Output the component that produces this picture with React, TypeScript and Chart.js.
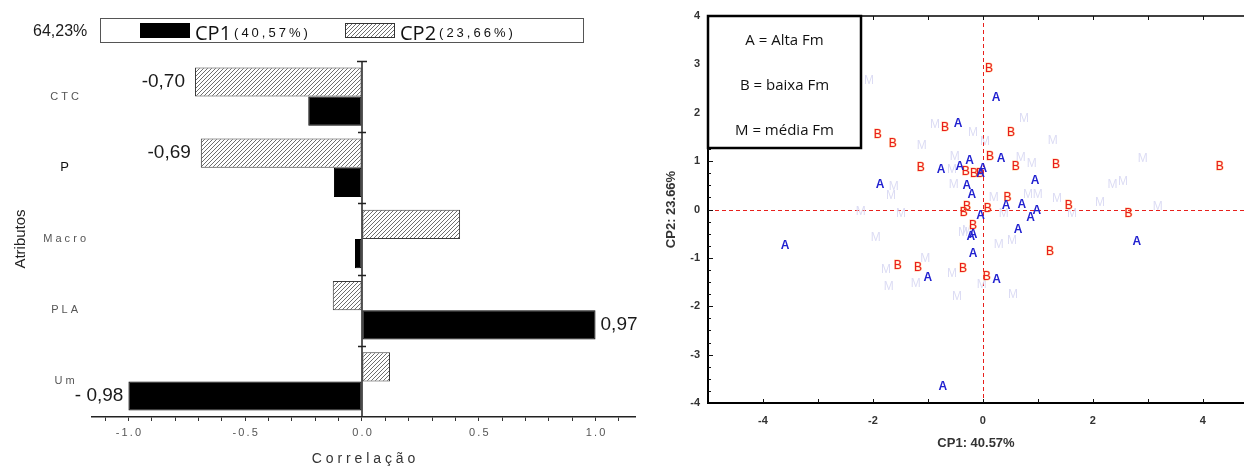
import React, { useEffect, useRef } from 'react';
import { Chart, registerables } from 'chart.js';

Chart.register(...registerables);

// ---------- Left panel data (correlations) ----------
const attributes = ['CTC', 'P', 'Macro', 'PLA', 'Um'];
const cp1Values = [-0.23, -0.12, -0.03, 1.0, -1.0];
const cp2Values = [-0.715, -0.69, 0.42, -0.125, 0.12];
const seriesNames = ['CP1', 'CP2'];
const seriesPct = ['(40,57%)', '(23,66%)'];
const totalPct = '64,23%';
const barLabelTexts = ['-0,70', '-0,69', '0,97', '- 0,98'];
const barLabelSeries = [1, 1, 0, 0]; // 0 = CP1, 1 = CP2
const barLabelIndex = [0, 1, 3, 4];
const corrAxisTitle = 'Correlação';
const attrAxisTitle = 'Atributos';

// ---------- Right panel data (PCA scores) ----------
const aX = [0.24, -0.45, -0.24, 0.33, -0.76, -0.42, 0.0, -0.04, -1.87, -0.29, -0.2, 0.95, -0.04, 0.42, 0.71, 0.98, 0.87, 0.64, -0.18, -0.22, -0.18, -3.6, 2.8, -1.0, 0.25, -0.73];
const aY = [2.31, 1.78, 1.01, 1.05, 0.83, 0.89, 0.85, 0.74, 0.52, 0.5, 0.31, 0.6, -0.12, 0.08, 0.1, -0.02, -0.17, -0.41, -0.52, -0.56, -0.91, -0.74, -0.66, -1.4, -1.45, -3.66];
const bX = [0.11, -1.91, -1.64, -0.69, 0.51, 0.13, -1.13, -0.31, -0.16, -0.05, 0.6, 1.33, 4.31, 0.45, -0.29, -0.35, 0.09, 1.56, 2.65, -0.18, 1.22, -1.55, -1.18, -0.36, 0.07];
const bY = [2.91, 1.55, 1.36, 1.69, 1.59, 1.1, 0.87, 0.79, 0.74, 0.74, 0.89, 0.93, 0.89, 0.25, 0.06, -0.06, 0.02, 0.08, -0.08, -0.33, -0.87, -1.16, -1.2, -1.22, -1.38];
const mX = [-2.07, 0.75, -0.87, -0.18, 0.04, -1.11, -0.51, 0.69, 0.89, -0.56, -1.62, -0.53, -1.67, 0.2, 0.82, 1.0, -2.22, -1.49, -1.95, -0.36, 0.38, 0.29, 0.53, -1.05, -1.76, -1.71, -1.22, -0.56, -0.02, 0.55, -0.47, 1.27, 2.91, 2.36, 2.55, 1.35, 2.13, 1.62, 3.18, -0.29];
const mY = [2.67, 1.88, 1.76, 1.59, 1.4, 1.32, 1.1, 1.07, 0.95, 0.83, 0.48, 0.52, 0.29, 0.25, 0.31, 0.31, -0.04, -0.08, -0.58, -0.48, -0.08, -0.72, -0.64, -1.01, -1.24, -1.59, -1.53, -1.32, -1.55, -1.76, -1.8, 1.43, 1.05, 0.52, 0.58, 0.23, 0.14, -0.08, 0.06, -0.43];
const groupLetters = ['M', 'B', 'A'];
const groupLegend = ['A = Alta Fm', 'B = baixa Fm', 'M = média Fm'];
const scoreXTitle = 'CP1: 40.57%';
const scoreYTitle = 'CP2: 23.66%';

Chart.defaults.font.family = "'Liberation Sans', Arial, sans-serif";

function toPoints(xs: number[], ys: number[]) {
  return xs.map((x, i) => ({ x, y: ys[i] }));
}

function makeHatch(): CanvasPattern | string {
  const c = document.createElement('canvas');
  c.width = 4;
  c.height = 4;
  const g = c.getContext('2d');
  if (!g) return '#cccccc';
  g.fillStyle = '#ffffff';
  g.fillRect(0, 0, 4, 4);
  g.strokeStyle = '#5e5e5e';
  g.lineWidth = 0.9;
  g.beginPath();
  g.moveTo(0, 4); g.lineTo(4, 0);
  g.moveTo(-1, 1); g.lineTo(1, -1);
  g.moveTo(3, 5); g.lineTo(5, 3);
  g.stroke();
  return g.createPattern(c, 'repeat') || '#cccccc';
}

const spaced = (s: string, sep = ' ') => s.split('').join(sep);
const isHalf = (v: number) => Math.abs(v * 2 - Math.round(v * 2)) < 1e-6;

export default function App() {
  const leftRef = useRef<HTMLCanvasElement>(null);
  const rightRef = useRef<HTMLCanvasElement>(null);

  useEffect(() => {
    document.body.style.margin = '0';
    const hatch = makeHatch();

    const barDecor = {
      id: 'barDecor',
      afterDatasetsDraw(chart: any) {
        const { ctx, chartArea, scales } = chart;
        const x = scales.x;
        const y = scales.y;
        const x0 = Math.round(x.getPixelForValue(0));
        const band = y.getPixelForValue(1) - y.getPixelForValue(0);
        ctx.save();
        // zero axis
        ctx.strokeStyle = '#222';
        ctx.lineWidth = 1.5;
        ctx.beginPath();
        ctx.moveTo(x0, chartArea.top);
        ctx.lineTo(x0, chartArea.bottom);
        for (let i = 0; i < attributes.length; i++) {
          const yy = Math.round(y.getPixelForValue(i) - band / 2) + 0.5;
          const w = i === 0 ? 5 : 4;
          ctx.moveTo(x0 - w, yy);
          ctx.lineTo(x0 + w, yy);
        }
        ctx.stroke();

        // value labels
        ctx.fillStyle = '#1a1a1a';
        ctx.font = "19px 'Liberation Sans', sans-serif";
        ctx.textBaseline = 'middle';
        barLabelTexts.forEach((t, k) => {
          const dsIndex = barLabelSeries[k] === 0 ? 1 : 0;
          const el = chart.getDatasetMeta(dsIndex).data[barLabelIndex[k]];
          const val = chart.data.datasets[dsIndex].data[barLabelIndex[k]];
          const gap = barLabelSeries[k] === 1 ? 10 : 5;
          if (val < 0) {
            ctx.textAlign = 'right';
            ctx.fillText(t, el.x - gap, el.y);
          } else {
            ctx.textAlign = 'left';
            ctx.fillText(t, el.x + gap, el.y);
          }
        });

        // total
        ctx.textAlign = 'left';
        ctx.font = "16px 'Liberation Sans', sans-serif";
        ctx.fillText(totalPct, 33, 32);

        // legend box
        ctx.strokeStyle = '#555';
        ctx.lineWidth = 1;
        ctx.strokeRect(100.5, 18.5, 483, 24);
        const starts = [140, 345];
        const fills = [chart.data.datasets[1].backgroundColor, chart.data.datasets[0].backgroundColor];
        for (let k = 0; k < 2; k++) {
          const sx = starts[k];
          ctx.fillStyle = fills[k];
          ctx.fillRect(sx, 23, 50, 15);
          ctx.strokeStyle = k === 0 ? '#000' : '#333';
          ctx.lineWidth = 1;
          ctx.strokeRect(sx + 0.5, 23.5, 49, 14);
          ctx.fillStyle = '#111';
          ctx.font = "20px 'Open Sans', sans-serif";
          ctx.textBaseline = 'alphabetic';
          ctx.fillText(seriesNames[k], sx + 55, 40);
          const w = ctx.measureText(seriesNames[k]).width;
          ctx.font = "13px 'Liberation Sans', sans-serif";
          (ctx as any).letterSpacing = '3px';
          ctx.fillText(seriesPct[k], sx + 58 + w, 37);
          (ctx as any).letterSpacing = '0px';
        }
        ctx.restore();
      },
    };

    const left = new Chart(leftRef.current as HTMLCanvasElement, {
      type: 'bar',
      data: {
        labels: attributes,
        datasets: [
          {
            label: seriesNames[1],
            data: cp2Values,
            backgroundColor: hatch as any,
            borderColor: '#3a3a3a',
            borderWidth: 1,
            borderSkipped: false,
            categoryPercentage: 0.82,
            barPercentage: 1.0,
          },
          {
            label: seriesNames[0],
            data: cp1Values,
            backgroundColor: '#000000',
            borderColor: '#000000',
            borderWidth: 1,
            borderSkipped: false,
            categoryPercentage: 0.82,
            barPercentage: 1.0,
          },
        ],
      },
      options: {
        indexAxis: 'y',
        animation: false,
        responsive: false,
        layout: { padding: { top: 61, right: 15, left: 0, bottom: 0 } },
        plugins: { legend: { display: false }, tooltip: { enabled: false } },
        scales: {
          x: {
            type: 'linear',
            min: -1.156,
            max: 1.169,
            grid: { display: true, drawOnChartArea: false, drawTicks: true, tickLength: 4, color: '#333' },
            border: { display: true, color: '#222', width: 1.5 },
            ticks: {
              stepSize: 0.1,
              includeBounds: false,
              autoSkip: false,
              maxRotation: 0,
              padding: 5,
              color: '#555',
              font: { size: 11 },
              callback: (v: any) => {
                const n = Number(v);
                if (!isHalf(n)) return '';
                const s = Math.abs(n) < 1e-9 ? '0.0' : n.toFixed(1);
                return spaced(s, '\u2009');
              },
            },
            title: {
              display: true,
              text: spaced(corrAxisTitle),
              color: '#333',
              font: { size: 14 },
              padding: { top: 0, bottom: -2 },
            },
            afterFit: (s: any) => { s.height = 49; },
          },
          y: {
            type: 'category',
            grid: { display: false, drawTicks: false },
            border: { display: false },
            ticks: {
              crossAlign: 'center',
              padding: 6,
              color: (c: any) => (c.index === 1 ? '#111' : '#555'),
              font: (c: any) => (c.index === 1 ? { size: 13 } : { size: 11 }),
              callback: (_v: any, i: number) => spaced(attributes[i]),
            },
            title: {
              display: true,
              text: attrAxisTitle,
              color: '#222',
              font: { size: 15 },
              padding: { top: 12, bottom: 0 },
            },
            afterFit: (s: any) => { s.width = 92; },
          },
        },
      } as any,
      plugins: [barDecor],
    });

    const letterStyles = [
      { font: "12px 'Liberation Sans', Arial, sans-serif", fill: 'rgb(220,220,244)', stroke: '' },
      { font: "12px 'Liberation Sans', Arial, sans-serif", fill: '#ea1c1c', stroke: 'rgba(255,170,80,0.55)' },
      { font: "bold 12px 'Liberation Sans', Arial, sans-serif", fill: '#2222d0', stroke: '' },
    ];

    const scatterDecor = {
      id: 'scatterDecor',
      beforeDatasetsDraw(chart: any) {
        const { ctx, chartArea, scales } = chart;
        const x0 = Math.round(scales.x.getPixelForValue(0)) + 0.5;
        const y0 = Math.round(scales.y.getPixelForValue(0)) + 0.5;
        ctx.save();
        ctx.strokeStyle = '#e8201c';
        ctx.lineWidth = 1;
        ctx.setLineDash([4, 3]);
        ctx.beginPath();
        ctx.moveTo(x0, chartArea.top);
        ctx.lineTo(x0, chartArea.bottom);
        ctx.moveTo(chartArea.left, y0);
        ctx.lineTo(chartArea.right, y0);
        ctx.stroke();
        ctx.restore();
      },
      afterDatasetsDraw(chart: any) {
        const { ctx, chartArea, scales } = chart;
        const { left: L, right: R, top: T, bottom: B } = chartArea;
        ctx.save();
        ctx.textAlign = 'center';
        ctx.textBaseline = 'middle';
        chart.data.datasets.forEach((ds: any, i: number) => {
          const meta = chart.getDatasetMeta(i);
          const st = letterStyles[i];
          ctx.font = st.font;
          meta.data.forEach((el: any) => {
            if (st.stroke) {
              ctx.strokeStyle = st.stroke;
              ctx.lineWidth = 1;
              ctx.strokeText(ds.label, el.x, el.y);
            }
            ctx.fillStyle = st.fill;
            ctx.fillText(ds.label, el.x, el.y);
          });
        });

        // top frame
        ctx.strokeStyle = '#000';
        ctx.lineWidth = 1.5;
        ctx.beginPath();
        ctx.moveTo(L, T);
        ctx.lineTo(R, T);
        ctx.stroke();

        // inward ticks
        ctx.lineWidth = 1;
        ctx.strokeStyle = '#111';
        ctx.beginPath();
        scales.x.ticks.forEach((t: any) => {
          const px = Math.round(scales.x.getPixelForValue(t.value)) + 0.5;
          if (px <= L + 2 || px >= R - 1) return;
          ctx.moveTo(px, B);
          ctx.lineTo(px, B - 4);
          ctx.moveTo(px, T);
          ctx.lineTo(px, T + 4);
        });
        scales.y.ticks.forEach((t: any) => {
          const py = Math.round(scales.y.getPixelForValue(t.value)) + 0.5;
          if (py <= T + 2 || py >= B - 2) return;
          const len = Number.isInteger(t.value) ? 5 : 3;
          ctx.moveTo(L, py);
          ctx.lineTo(L + len, py);
        });
        ctx.stroke();

        // legend box
        const bw = 153;
        const bh = 132;
        ctx.fillStyle = '#ffffff';
        ctx.fillRect(L, T, bw, bh);
        ctx.strokeStyle = '#000';
        ctx.lineWidth = 2.5;
        ctx.strokeRect(L, T, bw, bh);
        ctx.fillStyle = '#111';
        ctx.font = "15px 'Open Sans', sans-serif";
        groupLegend.forEach((t, k) => {
          ctx.fillText(t, L + bw / 2, T + 25 + k * 45);
        });
        ctx.restore();
      },
    };

    const right = new Chart(rightRef.current as HTMLCanvasElement, {
      type: 'scatter',
      data: {
        datasets: [
          { label: groupLetters[0], data: toPoints(mX, mY), pointRadius: 0, pointHoverRadius: 0 },
          { label: groupLetters[1], data: toPoints(bX, bY), pointRadius: 0, pointHoverRadius: 0 },
          { label: groupLetters[2], data: toPoints(aX, aY), pointRadius: 0, pointHoverRadius: 0 },
        ],
      },
      options: {
        animation: false,
        responsive: false,
        layout: { padding: { top: 16, right: 0, left: 0, bottom: 0 } },
        plugins: { legend: { display: false }, tooltip: { enabled: false } },
        scales: {
          x: {
            type: 'linear',
            position: 'bottom',
            min: -5,
            max: 4.75,
            grid: { display: false, drawTicks: false },
            border: { display: true, color: '#000', width: 2 },
            ticks: {
              stepSize: 1,
              includeBounds: false,
              autoSkip: false,
              maxRotation: 0,
              padding: 11,
              color: '#333',
              font: { size: 11, weight: 'bold' },
              callback: (v: any) => (Math.round(Number(v)) % 2 === 0 ? String(Math.round(Number(v))) : ''),
            },
            title: {
              display: true,
              text: scoreXTitle,
              color: '#333',
              font: { size: 13, weight: 'bold' },
              padding: { top: 0, bottom: 15 },
            },
            afterFit: (s: any) => { s.height = 63; },
          },
          y: {
            type: 'linear',
            min: -4,
            max: 4,
            grid: { display: false, drawTicks: false },
            border: { display: true, color: '#000', width: 2 },
            ticks: {
              stepSize: 0.25,
              autoSkip: false,
              padding: 8,
              color: '#333',
              font: { size: 11, weight: 'bold' },
              callback: (v: any) => (Number.isInteger(Number(v)) ? String(v) : ''),
            },
            title: {
              display: true,
              text: scoreYTitle,
              color: '#333',
              font: { size: 13, weight: 'bold' },
              padding: { top: 14, bottom: 0 },
            },
            afterFit: (s: any) => { s.width = 58; },
          },
        },
      } as any,
      plugins: [scatterDecor],
    });

    return () => {
      left.destroy();
      right.destroy();
    };
  }, []);

  return (
    <div style={{ display: 'flex', width: 1244, height: 466, background: '#fff', overflow: 'hidden' }}>
      <canvas ref={leftRef} width={650} height={466} style={{ display: 'block' }} />
      <canvas ref={rightRef} width={594} height={466} style={{ display: 'block' }} />
    </div>
  );
}
